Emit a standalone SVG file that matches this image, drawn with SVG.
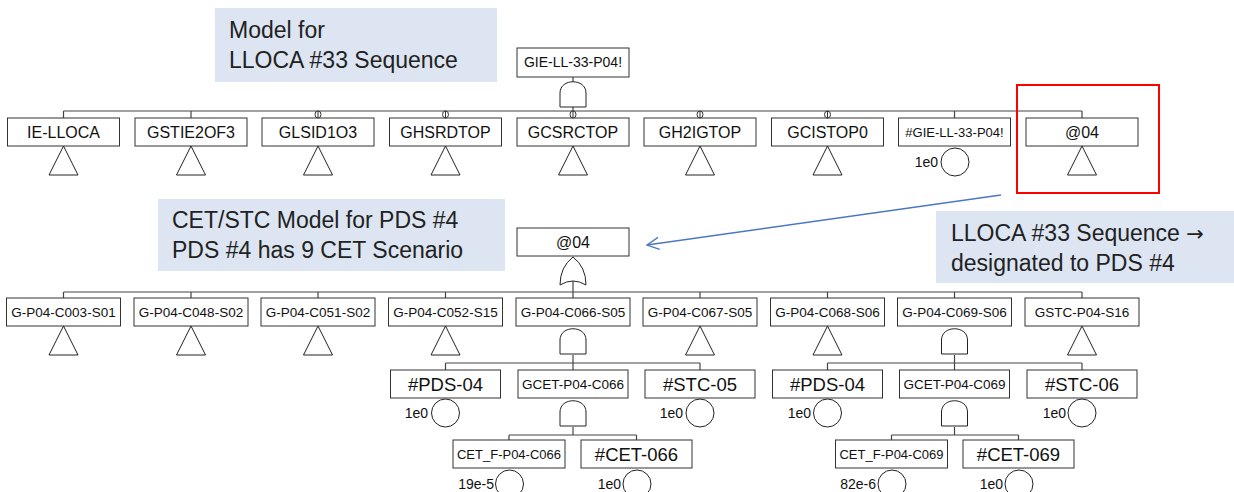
<svg xmlns="http://www.w3.org/2000/svg" width="1234" height="492" viewBox="0 0 1234 492">
<style>
.box{fill:#fff;stroke:#333;stroke-width:1}
.ln{fill:none;stroke:#444;stroke-width:1.2}
.sym{fill:#fff;stroke:#222;stroke-width:1}
.t{font-family:"Liberation Sans",Arial,sans-serif;fill:#111;text-anchor:middle}
.t15{font-size:16px}
.t13{font-size:13.5px}
.t18{font-size:18.5px}
.p{font-family:"Liberation Sans",Arial,sans-serif;font-size:14px;fill:#111;text-anchor:end}
.call{fill:#dce5f1}
.ct{font-family:"Liberation Sans",Arial,sans-serif;font-size:23px;fill:#222}
</style>
<defs>
<path id="tri" class="sym" d="M0,0 L-14.5,29 L14.5,29 Z"/>
<path id="and" class="sym" d="M-13,26 L-13,12 C-13,-3 13,-3 13,12 L13,26 Z"/>
<path id="or" class="sym" d="M-13,28 Q0,20 13,28 Q13,10 0,0 Q-13,10 -13,28 Z"/>
<g id="neg"><ellipse cx="0" cy="0" rx="3" ry="3.5" fill="#fff" stroke="#333" stroke-width="1"/><line x1="0" y1="-3.5" x2="0" y2="3.5" stroke="#333" stroke-width="1"/></g>
<marker id="arr" markerWidth="16" markerHeight="16" refX="14" refY="8" orient="auto" markerUnits="userSpaceOnUse"><path d="M2,2 L14,8 L2,14" fill="none" stroke="#4a78c0" stroke-width="1.3"/></marker>
</defs>

<g id="callouts">
<rect class="call" x="215" y="8" width="282" height="74"/>
<text class="ct" x="229" y="38">Model for</text>
<text class="ct" x="229" y="68">LLOCA #33 Sequence</text>
<rect class="call" x="158" y="199" width="347" height="72"/>
<text class="ct" x="172" y="228">CET/STC Model for PDS #4</text>
<text class="ct" x="172" y="258">PDS #4 has 9 CET Scenario</text>
<rect class="call" x="936" y="211" width="298" height="72"/>
<text class="ct" x="951" y="241">LLOCA #33 Sequence <tspan font-family="DejaVu Sans, sans-serif" font-size="21">→</tspan></text>
<text class="ct" x="951" y="271">designated to PDS #4</text>
</g>

<g id="connectors">
<line class="ln" x1="573" y1="77" x2="573" y2="82"/>
<line class="ln" x1="573" y1="106" x2="573" y2="111"/>
<line class="ln" x1="63.5" y1="111" x2="1082" y2="111"/>
<line class="ln" x1="63.5" y1="111" x2="63.5" y2="118"/>
<line class="ln" x1="191" y1="111" x2="191" y2="118"/>
<line class="ln" x1="318" y1="111" x2="318" y2="118"/>
<line class="ln" x1="445.5" y1="111" x2="445.5" y2="118"/>
<line class="ln" x1="573" y1="111" x2="573" y2="118"/>
<line class="ln" x1="700" y1="111" x2="700" y2="118"/>
<line class="ln" x1="827.5" y1="111" x2="827.5" y2="118"/>
<line class="ln" x1="954.5" y1="111" x2="954.5" y2="118"/>
<line class="ln" x1="1082" y1="111" x2="1082" y2="118"/>
<line class="ln" x1="573" y1="281" x2="573" y2="292"/>
<line class="ln" x1="63.5" y1="292" x2="1082" y2="292"/>
<line class="ln" x1="63.5" y1="292" x2="63.5" y2="298"/>
<line class="ln" x1="191" y1="292" x2="191" y2="298"/>
<line class="ln" x1="318" y1="292" x2="318" y2="298"/>
<line class="ln" x1="445.5" y1="292" x2="445.5" y2="298"/>
<line class="ln" x1="573" y1="292" x2="573" y2="298"/>
<line class="ln" x1="700" y1="292" x2="700" y2="298"/>
<line class="ln" x1="827.5" y1="292" x2="827.5" y2="298"/>
<line class="ln" x1="954.5" y1="292" x2="954.5" y2="298"/>
<line class="ln" x1="1082" y1="292" x2="1082" y2="298"/>
<line class="ln" x1="573" y1="355" x2="573" y2="363"/>
<line class="ln" x1="445.5" y1="363" x2="700" y2="363"/>
<line class="ln" x1="445.5" y1="363" x2="445.5" y2="370"/>
<line class="ln" x1="573" y1="363" x2="573" y2="370"/>
<line class="ln" x1="700" y1="363" x2="700" y2="370"/>
<line class="ln" x1="954.5" y1="355" x2="954.5" y2="363"/>
<line class="ln" x1="827.5" y1="363" x2="1082" y2="363"/>
<line class="ln" x1="827.5" y1="363" x2="827.5" y2="370"/>
<line class="ln" x1="954.5" y1="363" x2="954.5" y2="370"/>
<line class="ln" x1="1082" y1="363" x2="1082" y2="370"/>
<line class="ln" x1="573" y1="427" x2="573" y2="435"/>
<line class="ln" x1="509" y1="435" x2="636.5" y2="435"/>
<line class="ln" x1="509" y1="435" x2="509" y2="440"/>
<line class="ln" x1="636.5" y1="435" x2="636.5" y2="440"/>
<line class="ln" x1="954.5" y1="427" x2="954.5" y2="435"/>
<line class="ln" x1="891.5" y1="435" x2="1018.5" y2="435"/>
<line class="ln" x1="891.5" y1="435" x2="891.5" y2="440"/>
<line class="ln" x1="1018.5" y1="435" x2="1018.5" y2="440"/>
<line x1="1001" y1="195" x2="647" y2="245" stroke="#4a78c0" stroke-width="1.3" marker-end="url(#arr)"/>
</g>

<g id="GIE-LL-33-P04"><rect class="box" x="517" y="48" width="112" height="29"/><text class="t" x="573" y="67" font-size="14">GIE-LL-33-P04!</text><use href="#and" x="573" y="81"/></g>

<g id="IE-LLOCA"><rect class="box" x="7.5" y="118" width="112" height="28"/><text class="t t15" x="63.5" y="138">IE-LLOCA</text><use href="#tri" x="63.5" y="146"/></g>
<g id="GSTIE2OF3"><rect class="box" x="135" y="118" width="112" height="28"/><text class="t t15" x="191" y="138">GSTIE2OF3</text><use href="#tri" x="191" y="146"/></g>
<g id="GLSID1O3"><rect class="box" x="262" y="118" width="112" height="28"/><text class="t t15" x="318" y="138">GLSID1O3</text><use href="#tri" x="318" y="146"/><use href="#neg" x="318" y="114.5"/></g>
<g id="GHSRDTOP"><rect class="box" x="389.5" y="118" width="112" height="28"/><text class="t t15" x="445.5" y="138">GHSRDTOP</text><use href="#tri" x="445.5" y="146"/><use href="#neg" x="445.5" y="114.5"/></g>
<g id="GCSRCTOP"><rect class="box" x="517" y="118" width="112" height="28"/><text class="t t15" x="573" y="138">GCSRCTOP</text><use href="#tri" x="573" y="146"/><use href="#neg" x="573" y="114.5"/></g>
<g id="GH2IGTOP"><rect class="box" x="644" y="118" width="112" height="28"/><text class="t t15" x="700" y="138">GH2IGTOP</text><use href="#tri" x="700" y="146"/><use href="#neg" x="700" y="114.5"/></g>
<g id="GCISTOP0"><rect class="box" x="771.5" y="118" width="112" height="28"/><text class="t t15" x="827.5" y="138">GCISTOP0</text><use href="#tri" x="827.5" y="146"/><use href="#neg" x="827.5" y="114.5"/></g>
<g id="NGIE-LL-33-P04"><rect class="box" x="898.5" y="118" width="112" height="28"/><text class="t" x="954.5" y="137" font-size="13">#GIE-LL-33-P04!</text><circle class="sym" cx="955" cy="162" r="14"/><text class="p" x="938" y="167">1e0</text></g>
<g id="at04-top"><rect class="box" x="1026" y="118" width="112" height="28"/><text class="t t15" x="1082" y="138">@04</text><use href="#tri" x="1082" y="146"/></g>

<rect x="1017" y="85" width="142" height="108" fill="none" stroke="#ff0000" stroke-width="2"/>

<g id="at04"><rect class="box" x="517" y="228" width="112" height="28"/><text class="t t15" x="573" y="248">@04</text><use href="#or" x="573" y="257"/></g>

<g id="G-P04-C003-S01"><rect class="box" x="6.5" y="298" width="114" height="28"/><text class="t t13" x="63.5" y="317">G-P04-C003-S01</text><use href="#tri" x="63.5" y="326"/></g>
<g id="G-P04-C048-S02"><rect class="box" x="134" y="298" width="114" height="28"/><text class="t t13" x="191" y="317">G-P04-C048-S02</text><use href="#tri" x="191" y="326"/></g>
<g id="G-P04-C051-S02"><rect class="box" x="261" y="298" width="114" height="28"/><text class="t t13" x="318" y="317">G-P04-C051-S02</text><use href="#tri" x="318" y="326"/></g>
<g id="G-P04-C052-S15"><rect class="box" x="388.5" y="298" width="114" height="28"/><text class="t t13" x="445.5" y="317">G-P04-C052-S15</text><use href="#tri" x="445.5" y="326"/></g>
<g id="G-P04-C066-S05"><rect class="box" x="516" y="298" width="114" height="28"/><text class="t t13" x="573" y="317">G-P04-C066-S05</text><use href="#and" x="573" y="328"/></g>
<g id="G-P04-C067-S05"><rect class="box" x="643" y="298" width="114" height="28"/><text class="t t13" x="700" y="317">G-P04-C067-S05</text><use href="#tri" x="700" y="326"/></g>
<g id="G-P04-C068-S06"><rect class="box" x="770.5" y="298" width="114" height="28"/><text class="t t13" x="827.5" y="317">G-P04-C068-S06</text><use href="#tri" x="827.5" y="326"/></g>
<g id="G-P04-C069-S06"><rect class="box" x="897.5" y="298" width="114" height="28"/><text class="t t13" x="954.5" y="317">G-P04-C069-S06</text><use href="#and" x="954.5" y="328"/></g>
<g id="GSTC-P04-S16"><rect class="box" x="1025" y="298" width="114" height="28"/><text class="t t13" x="1082" y="317">GSTC-P04-S16</text><use href="#tri" x="1082" y="326"/></g>

<g id="PDS-04-a"><rect class="box" x="390.5" y="370" width="110" height="28"/><text class="t t18" x="445.5" y="391">#PDS-04</text><circle class="sym" cx="445.5" cy="413" r="14"/><text class="p" x="428" y="418">1e0</text></g>
<g id="GCET-P04-C066"><rect class="box" x="518" y="370" width="110" height="28"/><text class="t t13" x="573" y="389">GCET-P04-C066</text><use href="#and" x="573" y="400"/></g>
<g id="STC-05"><rect class="box" x="645" y="370" width="110" height="28"/><text class="t t18" x="700" y="391">#STC-05</text><circle class="sym" cx="700" cy="413" r="14"/><text class="p" x="683" y="418">1e0</text></g>
<g id="CET_F-P04-C066"><rect class="box" x="453" y="440" width="112" height="28"/><text class="t" x="509" y="459" font-size="13">CET_F-P04-C066</text><circle class="sym" cx="509.5" cy="484" r="14"/><text class="p" x="494" y="489">19e-5</text></g>
<g id="CET-066"><rect class="box" x="581" y="440" width="111" height="28"/><text class="t t18" x="636.5" y="461">#CET-066</text><circle class="sym" cx="637" cy="484" r="14"/><text class="p" x="621" y="489">1e0</text></g>

<g id="PDS-04-b"><rect class="box" x="772.5" y="370" width="110" height="28"/><text class="t t18" x="827.5" y="391">#PDS-04</text><circle class="sym" cx="827.5" cy="413" r="14"/><text class="p" x="811" y="418">1e0</text></g>
<g id="GCET-P04-C069"><rect class="box" x="899.5" y="370" width="110" height="28"/><text class="t t13" x="954.5" y="389">GCET-P04-C069</text><use href="#and" x="954.5" y="400"/></g>
<g id="STC-06"><rect class="box" x="1027" y="370" width="110" height="28"/><text class="t t18" x="1082" y="391">#STC-06</text><circle class="sym" cx="1082" cy="413" r="14"/><text class="p" x="1066" y="418">1e0</text></g>
<g id="CET_F-P04-C069"><rect class="box" x="835.5" y="440" width="112" height="28"/><text class="t" x="891.5" y="459" font-size="13">CET_F-P04-C069</text><circle class="sym" cx="892" cy="484" r="14"/><text class="p" x="876" y="489">82e-6</text></g>
<g id="CET-069"><rect class="box" x="963" y="440" width="111" height="28"/><text class="t t18" x="1018.5" y="461">#CET-069</text><circle class="sym" cx="1019" cy="484" r="14"/><text class="p" x="1003" y="489">1e0</text></g>
</svg>
